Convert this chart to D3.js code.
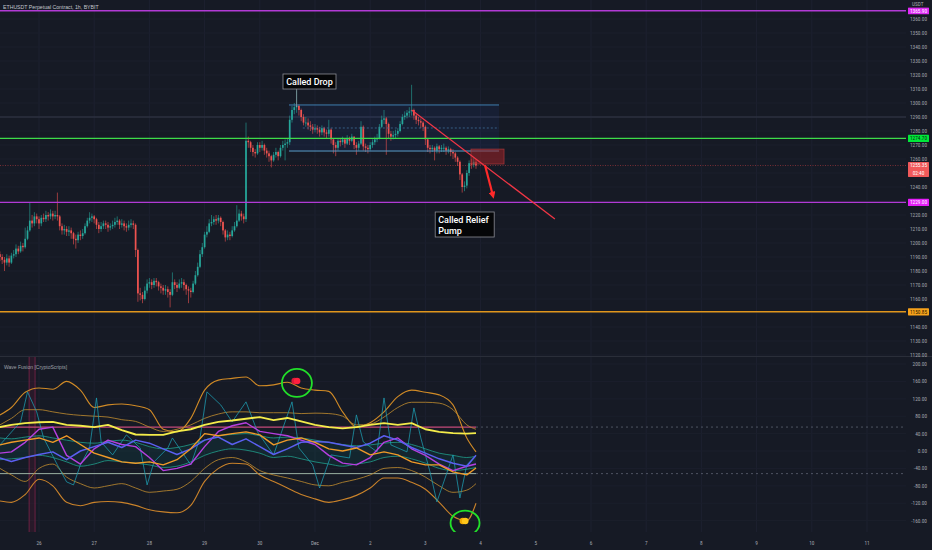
<!DOCTYPE html>
<html><head><meta charset="utf-8">
<script src="https://cdn.jsdelivr.net/npm/d3@7"></script>
<style>html,body{margin:0;padding:0;background:#161a25;overflow:hidden}</style>
</head><body><svg id="c" width="932" height="550"></svg>
<script>
// ---------------- DATA ----------------
const chartTitle = "ETHUSDT Perpetual Contract, 1h, BYBIT";
const startHour = -17;          // hours relative to Nov 26 00:00
const firstOpen = 1192;
const closes = [1190,1188,1186,1189,1186, 1191,1192,1196,1194, 1198,1197,1203, 1209,1216,
 1214,1219,1217,1214, 1218,1217,1220,1219, 1221,1219,1220,1219, 1212,1209,1210,1208,
 1209,1207,1203,1202, 1206,1205,1207,1212, 1216,1218,1219,1217, 1213,1210,1212,1214,
 1213,1211,1212,1213, 1215,1216,1213,1214, 1212,1211,1213,1214,1213, 1195,1164,
 1163,1160,1166,1171, 1172,1170,1173,1172,1169, 1168,1166,1167,1165, 1163,1172,
 1170,1168,1171,1172, 1170,1167,1166,1165, 1171,1177,1183,1192, 1197,1206,1208,1214,
 1215,1217,1216,1218,1215, 1209,1204,1206,1205, 1209,1212,1216,1221,1219,1217,
 1273,1272,1268,1265,1264, 1270,1268,1270,1266,1264, 1262,1259,1263,1265,1262,
 1268,1270,1271,1272, 1288,1295,1297,1298,1295, 1290,1286,1286,1284,1283,
 1281,1282,1281,1279,1282, 1279,1278,1281,1274,1270, 1268,1273,1272,1274,1271,
 1275,1273,1276,1270,1268, 1271,1283,1269,1268,1267, 1270,1272,1274,1275,1283,
 1288,1289,1285,1278,1276, 1277,1278,1280,1285,1290, 1291,1293,1294,1295,1291,
 1288,1287,1286,1283,1274, 1268,1267,1268,1266,1269, 1267,1268,1268,1266,1267,
 1265,1264,1261,1258,1249, 1240,1241,1250,1257,1256, 1258,1255.35];
const highs = [1194,1192,1190,1192,1191, 1193,1195,1199,1198, 1201,1200,1211, 1212,1229,
 1220,1222,1221,1219, 1220,1221,1223,1222, 1224,1223,1223,1236, 1220,1214,1213,1212,
 1212,1211,1208,1206, 1208,1209,1210,1214, 1218,1222,1221,1220, 1218,1215,1215,1216,
 1216,1215,1214,1216, 1218,1219,1217,1217, 1216,1214,1216,1217,1216, 1214,1196,
 1168,1165,1169,1174, 1175,1174,1175,1175,1173, 1171,1170,1170,1169, 1167,1179,
 1174,1172,1174,1175, 1174,1171,1169,1168, 1173,1180,1186,1195, 1200,1208,1212,1217,
 1220,1219,1220,1220,1219, 1216,1210,1209,1208, 1212,1215,1227,1224,1223,1221,
 1286,1276,1273,1270,1267, 1272,1272,1273,1271,1268, 1266,1263,1265,1268,1266,
 1270,1273,1274,1275, 1291,1298,1300,1309,1299, 1296,1292,1290,1289,1287,
 1285,1285,1284,1283,1284, 1283,1281,1288,1282,1275, 1272,1275,1275,1276,1275,
 1277,1276,1278,1276,1272, 1273,1287,1284,1271,1270, 1272,1274,1276,1278,1285,
 1291,1295,1290,1286,1280, 1280,1281,1282,1287,1292, 1294,1295,1297,1313,1296,
 1292,1290,1289,1287,1284, 1275,1270,1270,1269,1271, 1270,1270,1271,1269,1269,
 1268,1267,1265,1262,1259, 1250,1244,1252,1259,1260, 1261,1260];
const lows = [1187,1185,1180,1184,1183, 1185,1189,1190,1192, 1193,1194,1196, 1202,1208,
 1211,1212,1214,1210, 1212,1215,1215,1216, 1217,1216,1217,1216, 1209,1206,1206,1205,
 1205,1203,1199,1196, 1200,1202,1203,1206, 1211,1214,1215,1214, 1210,1207,1208,1210,
 1210,1208,1209,1210, 1211,1213,1210,1211, 1209,1208,1209,1211,1210, 1190,1158,
 1159,1157,1159,1164, 1168,1167,1168,1169,1166, 1164,1163,1163,1161, 1154,1162,
 1167,1165,1167,1168, 1166,1163,1157,1161, 1164,1170,1176,1182, 1190,1196,1204,1207,
 1212,1213,1213,1214,1212, 1206,1201,1202,1202, 1204,1208,1211,1215,1216,1214,
 1215,1268,1265,1262,1261, 1263,1265,1266,1263,1261, 1258,1254,1258,1261,1259,
 1261,1266,1259,1268, 1270,1286,1292,1293,1291, 1287,1284,1283,1281,1280,
 1278,1279,1278,1276,1277, 1276,1275,1276,1271,1264, 1262,1266,1269,1270,1268,
 1270,1270,1272,1267,1263, 1266,1270,1266,1265,1264, 1266,1268,1270,1272,1274,
 1282,1285,1263,1275,1273, 1274,1275,1276,1279,1284, 1288,1289,1290,1291,1288,
 1285,1284,1282,1280,1270, 1265,1264,1265,1259,1264, 1264,1265,1265,1263,1264,
 1262,1260,1258,1255,1245, 1236,1237,1239,1248,1253, 1254,1253];

const dayTicks  = [0,24,48,72,96,120,144,168,192,216,240,264,288,312,336,360];
const dayLabels = ["26","27","28","29","30","Dec","2","3","4","5","6","7","8","9","10","11"];
const priceTicks = [1120,1130,1140,1150,1160,1170,1180,1190,1200,1210,1220,1230,1240,1250,1260,1270,1280,1290,1300,1310,1320,1330,1340,1350,1360];

const levelPrices = [1365.9, 1274.7, 1229.0, 1150.85];
const lastPrice = 1255.35;
const countdown = "02:40";
const greyLevel = 1290;

// drawings (hour, price)
const rangeBox = {t0:108.7, t1:200, top:1298.6, bottom:1265.7};
const redBox = {t0:187.8, t1:202.2, top:1267.1, bottom:1256.4};
const trendLine = [[162,1295],[224.3,1217.1]];
const arrowLine = [[193.9,1255.7],[197.4,1233.6]];
const noteDrop = {t:112, p:1309, text:["Called Drop"]};
const noteRelief = {t:184, p:1236, text:["Called Relief","Pump"]};

// indicator
const indTitle = "Wave Fusion [CryptoScripts]";
const indTicks = [200,160,120,80,40,0,-40,-80,-120,-160];
const indLevels = [55, -52];
const indHours = [-17,-12,-6,0,6,12,18,24,30,36,42,48,54,60,66,72,78,84,90,96,102,108,114,120,126,132,138,144,150,156,162,168,174,180,186,190];
const yellowWave = [55,60,64,66,67,60,58,55,60,48,38,37,37,45,50,60,67,70,74,78,71,76,68,60,55,52,55,60,64,60,64,50,44,41,40,41];
const blueWave   = [-16,-24,-15,-8,-2,-20,0,10,20,8,25,18,5,-8,5,25,32,15,28,10,-8,5,20,22,20,14,8,18,35,25,8,-5,-18,-28,-35,-10];
const magentaWave= [-5,-2,20,50,55,-10,-30,5,25,15,10,-15,-45,-40,-30,10,45,58,65,45,40,35,25,15,-10,-28,-32,-15,20,30,5,-10,-30,-45,-35,-30];
const orangeMid  = [14,20,25,30,20,35,15,-5,-15,-25,-28,-25,-32,-20,5,40,35,40,44,37,14,25,30,20,5,0,7,-9,-2,-9,-25,-32,-32,-48,-55,-39];
const upperBand  = [83,100,135,145,142,160,140,100,106,108,104,95,50,44,75,140,163,167,170,150,152,158,145,140,137,90,55,65,90,125,140,135,129,106,30,-2];
const upperBand2 = [60,75,95,95,90,85,82,80,78,72,68,55,45,50,60,75,85,90,90,88,88,88,86,87,86,80,60,62,78,100,112,112,110,95,60,50];
const lowerBand  = [-115,-118,-100,-65,-80,-118,-126,-118,-116,-118,-125,-135,-140,-142,-125,-70,-40,-28,-30,-55,-70,-85,-100,-110,-118,-112,-102,-85,-62,-62,-72,-88,-118,-150,-160,-120];
const lowerBand2 = [-40,-55,-70,-40,-30,-60,-75,-85,-80,-75,-85,-95,-92,-88,-70,-40,-20,-15,-25,-45,-55,-62,-70,-78,-80,-72,-65,-55,-40,-38,-45,-60,-80,-95,-90,-75];
const tealUpper  = [30,28,32,35,30,25,20,18,22,25,20,10,5,8,15,25,35,38,40,35,30,32,30,25,20,15,12,14,18,20,15,5,-5,-10,-15,-12];
const tealLower  = [-20,-18,-15,-10,-15,-25,-35,-30,-22,-25,-28,-32,-38,-35,-25,-10,0,5,2,-5,-15,-12,-18,-25,-30,-35,-30,-25,-15,-12,-18,-28,-40,-45,-42,-38];
const cyanSpikes = [[-17,14],[-8,67],[-5,136],[-1,90],[2,30],[8,-32],[12,-71],[15,-78],[18,-32],[22,7],[25,122],[27,21],[32,-9],[38,37],[44,7],[47,-78],[50,-25],[56,7],[58,30],[66,-32],[70,30],[73,136],[79,106],[84,67],[90,113],[95,44],[102,-9],[110,113],[113,7],[119,-32],[122,-85],[127,-9],[135,-16],[138,83],[141,21],[147,-2],[150,122],[153,14],[160,-2],[163,99],[166,30],[170,-48],[173,-117],[176,-71],[180,-9],[183,-108],[186,-32],[189,-16]];
const signalBand = [-4.3, -1.7];
const sellSignal = [111.7, 161];
const buySignal  = [184.8, -161];

// ---------------- DRAW ----------------
const svg = d3.select("#c");
const PR = 906;                      // plot right edge
const x  = d3.scaleLinear().domain([0,240]).range([39,591]);
const y  = d3.scaleLinear().domain([1120,1360]).range([355,19]);
const yi = d3.scaleLinear().domain([-160,200]).range([520.6,364]);
const fontAxis = "'Liberation Sans Narrow','Roboto Condensed','Liberation Sans',sans-serif";
const axisCol = "#a3a6af";

svg.append("rect").attr("width",932).attr("height",550).attr("fill","#161a25");
const defs = svg.append("defs");
defs.append("clipPath").attr("id","cp").append("rect").attr("x",0).attr("y",0).attr("width",PR).attr("height",356);
defs.append("clipPath").attr("id","ci").append("rect").attr("x",0).attr("y",357).attr("width",PR).attr("height",175);
defs.append("marker").attr("id","arr").attr("viewBox","0 0 10 10").attr("refX",6).attr("refY",5)
  .attr("markerWidth",3.2).attr("markerHeight",3.2).attr("orient","auto")
  .append("path").attr("d","M0,0 L10,5 L0,10 z").attr("fill","#ff2a2a");

// grid
const grid = svg.append("g");
grid.selectAll("line.v").data(dayTicks).join("line")
  .attr("x1",d=>x(d)).attr("x2",d=>x(d)).attr("y1",0).attr("y2",532)
  .attr("stroke","#1d2130").attr("stroke-width",1);
grid.selectAll("line.h").data(priceTicks).join("line")
  .attr("x1",0).attr("x2",PR).attr("y1",d=>y(d)).attr("y2",d=>y(d))
  .attr("stroke","#1b1f2c").attr("stroke-width",1);
grid.selectAll("line.hi").data(indTicks).join("line")
  .attr("x1",0).attr("x2",PR).attr("y1",d=>yi(d)).attr("y2",d=>yi(d))
  .attr("stroke","#1b1f2c").attr("stroke-width",1);
svg.append("line").attr("x1",0).attr("x2",932).attr("y1",356.5).attr("y2",356.5).attr("stroke","#2a2e39").attr("stroke-width",1);

// ---- price pane ----
const gp = svg.append("g").attr("clip-path","url(#cp)");
gp.append("line").attr("x1",0).attr("x2",PR).attr("y1",y(greyLevel)).attr("y2",y(greyLevel))
  .attr("stroke","#343949").attr("stroke-width",1);
gp.append("line").attr("x1",0).attr("x2",PR).attr("y1",y(lastPrice)).attr("y2",y(lastPrice))
  .attr("stroke","#b03a3e").attr("stroke-width",0.8).attr("stroke-dasharray","1,1.5").attr("opacity",0.8);

gp.append("rect").attr("x",x(rangeBox.t0)).attr("width",x(rangeBox.t1)-x(rangeBox.t0))
  .attr("y",y(rangeBox.top)).attr("height",y(rangeBox.bottom)-y(rangeBox.top))
  .attr("fill","rgba(41,98,255,0.07)");

const candles = closes.map((c,i)=>({t:startHour+i, o:i===0?firstOpen:closes[i-1], c:c, h:highs[i], l:lows[i]}));
const up="#26a69a", dn="#ef5350";
gp.selectAll("line.wick").data(candles).join("line")
  .attr("x1",d=>x(d.t)).attr("x2",d=>x(d.t))
  .attr("y1",d=>y(Math.max(d.h,d.o,d.c))).attr("y2",d=>y(Math.min(d.l,d.o,d.c)))
  .attr("stroke",d=>d.c>=d.o?up:dn).attr("stroke-width",0.6);
gp.selectAll("rect.body").data(candles).join("rect")
  .attr("x",d=>x(d.t)-0.85).attr("width",1.7)
  .attr("y",d=>y(Math.max(d.o,d.c)))
  .attr("height",d=>Math.max(0.8,Math.abs(y(d.o)-y(d.c))))
  .attr("fill",d=>d.c>=d.o?up:dn);

gp.append("line").attr("x1",x(rangeBox.t0)).attr("x2",x(rangeBox.t1)).attr("y1",y(rangeBox.top)).attr("y2",y(rangeBox.top))
  .attr("stroke","#3f7fb0").attr("stroke-width",1);
gp.append("line").attr("x1",x(rangeBox.t0)).attr("x2",x(rangeBox.t1)).attr("y1",y(rangeBox.bottom)).attr("y2",y(rangeBox.bottom))
  .attr("stroke","#5a9cc8").attr("stroke-width",1);
gp.append("line").attr("x1",x(rangeBox.t0+6)).attr("x2",x(rangeBox.t1)).attr("y1",y((rangeBox.top+rangeBox.bottom)/2)).attr("y2",y((rangeBox.top+rangeBox.bottom)/2))
  .attr("stroke","#3f6f9a").attr("stroke-width",0.8).attr("stroke-dasharray","2,2");

const levelLine = ["#b23ad6","#3ddc4a","#b23ad6","#e0961c"];
gp.selectAll("line.lvl").data(levelPrices).join("line")
  .attr("x1",0).attr("x2",PR).attr("y1",d=>y(d)).attr("y2",d=>y(d))
  .attr("stroke",(d,i)=>levelLine[i]).attr("stroke-width",1.4);

gp.append("rect").attr("x",x(redBox.t0)).attr("width",x(redBox.t1)-x(redBox.t0))
  .attr("y",y(redBox.top)).attr("height",y(redBox.bottom)-y(redBox.top))
  .attr("fill","rgba(160,35,38,0.55)").attr("stroke","rgba(210,70,70,0.6)").attr("stroke-width",0.8);
gp.append("line").attr("x1",x(trendLine[0][0])).attr("y1",y(trendLine[0][1]))
  .attr("x2",x(trendLine[1][0])).attr("y2",y(trendLine[1][1]))
  .attr("stroke","#f23645").attr("stroke-width",1.2);
gp.append("line").attr("x1",x(arrowLine[0][0])).attr("y1",y(arrowLine[0][1]))
  .attr("x2",x(arrowLine[1][0])).attr("y2",y(arrowLine[1][1]))
  .attr("stroke","#ff2a2a").attr("stroke-width",2.2).attr("marker-end","url(#arr)");

function note(n, dx, dy, w, h, align){
  const ax=x(n.t), ay=y(n.p);
  const g=gp.append("g");
  g.append("rect").attr("x",ax+dx).attr("y",ay+dy).attr("width",w).attr("height",h)
    .attr("fill","#050608").attr("stroke","#8a8d95").attr("stroke-width",0.8);
  n.text.forEach((s,i)=>{
    g.append("text").attr("x",align==="middle"?ax+dx+w/2:ax+dx+3).attr("y",ay+dy+10.5+i*11)
      .attr("text-anchor",align).attr("fill","#fff")
      .attr("font-family","Roboto,'Noto Sans',sans-serif").attr("font-weight",500).attr("font-size","9px").text(s);
  });
  return {ax,ay};
}
const nd = note(noteDrop,-13.6,-16.4,53,15,"middle");
gp.append("line").attr("x1",nd.ax).attr("x2",nd.ax).attr("y1",nd.ay-1.4).attr("y2",y(1297)).attr("stroke","#9a9da5").attr("stroke-width",0.7);
note(noteRelief,-27,19.4,59,25,"start");

// ---- indicator pane ----
const gi = svg.append("g").attr("clip-path","url(#ci)");
gi.append("rect").attr("x",x(signalBand[0])).attr("width",x(signalBand[1])-x(signalBand[0]))
  .attr("y",357).attr("height",175).attr("fill","rgba(120,20,60,0.18)");
signalBand.forEach(t=>gi.append("line").attr("x1",x(t)).attr("x2",x(t)).attr("y1",357).attr("y2",532)
  .attr("stroke","rgba(170,40,90,0.55)").attr("stroke-width",1));

const pts = v => v.map((d,i)=>[indHours[i], d]);
const lineGen = d3.line().x(d=>x(d[0])).y(d=>yi(d[1]));
gi.append("path").datum(indHours.map((h,i)=>[h,tealUpper[i],tealLower[i]]))
  .attr("d", d3.area().x(d=>x(d[0])).y0(d=>yi(d[2])).y1(d=>yi(d[1])).curve(d3.curveMonotoneX))
  .attr("fill","rgba(0,150,136,0.10)");
const lvlEnd = indHours[indHours.length-1];
gi.append("line").attr("x1",0).attr("x2",x(lvlEnd)).attr("y1",yi(indLevels[0])).attr("y2",yi(indLevels[0]))
  .attr("stroke","#c44a7a").attr("stroke-width",1.3);
gi.append("line").attr("x1",0).attr("x2",x(lvlEnd)).attr("y1",yi(indLevels[1])).attr("y2",yi(indLevels[1]))
  .attr("stroke","#a9c2b0").attr("stroke-width",0.9);
indLevels.forEach(v=>gi.append("line").attr("x1",x(lvlEnd)).attr("x2",PR).attr("y1",yi(v)).attr("y2",yi(v))
  .attr("stroke","#5d6271").attr("stroke-width",0.8).attr("stroke-dasharray","2,3"));

function wave(vals, color, width, curve, op){
  gi.append("path").datum(vals).attr("d", lineGen.curve(curve)(vals))
    .attr("fill","none").attr("stroke",color).attr("stroke-width",width).attr("opacity",op||1)
    .attr("stroke-linejoin","round");
}
wave(pts(tealUpper), "#1f8f80", 1, d3.curveMonotoneX, 0.9);
wave(pts(tealLower), "#1f8f80", 1, d3.curveMonotoneX, 0.9);
wave(pts(upperBand), "#d08a26", 1.1, d3.curveMonotoneX);
wave(pts(upperBand2), "#b7862e", 1, d3.curveMonotoneX, 0.85);
wave(pts(lowerBand), "#c9822a", 1.1, d3.curveMonotoneX);
wave(pts(lowerBand2), "#b7862e", 1, d3.curveMonotoneX, 0.85);
wave(cyanSpikes, "#1e9fb3", 1, d3.curveLinear, 0.75);
wave(pts(magentaWave), "#b53fe0", 1.4, d3.curveLinear);
wave(pts(blueWave), "#5b5ff0", 1.5, d3.curveLinear);
wave(pts(orangeMid), "#f09a28", 1.4, d3.curveLinear);
wave(pts(yellowWave), "#f4ec4a", 1.9, d3.curveLinear);

function signal(s, color, color2, rx, ry){
  const cx=x(s[0]), cy=yi(s[1]);
  gi.append("ellipse").attr("cx",cx+1).attr("cy",cy+2).attr("rx",rx).attr("ry",ry)
    .attr("fill","none").attr("stroke","#22e02a").attr("stroke-width",1.8);
  gi.append("circle").attr("cx",cx-1.2).attr("cy",cy).attr("r",3.3).attr("fill",color2);
  gi.append("circle").attr("cx",cx+1.2).attr("cy",cy).attr("r",3.3).attr("fill",color);
}
signal(sellSignal,"#ff1f3d","#d81b3a",15,14);
signal(buySignal,"#ffc61a","#f0a800",14.5,12.5);

// ---- text & axes ----
svg.append("text").attr("x",3).attr("y",8.5).attr("fill","#c3c6ce").attr("font-family","'Liberation Sans',Roboto,sans-serif")
  .attr("font-size","5.2px").text(chartTitle);
svg.append("text").attr("x",4).attr("y",368.5).attr("fill","#9ea1aa").attr("font-family","'Liberation Sans',Roboto,sans-serif")
  .attr("font-size","5px").text(indTitle);

// label boxes on the price scale (used to hide ticks underneath)
const boxSpans = levelPrices.map(p=>[y(p)-3.6, y(p)+3.6]).concat([[y(lastPrice)-3.6, y(lastPrice)+11.4]]);
const hidden = v => { const a=y(v)-2.3, b=y(v)+2.3; return boxSpans.some(s=>a<s[1] && b>s[0]) || y(v)<9; };

const ax = svg.append("g").attr("font-family",fontAxis).attr("font-size","5.3px").attr("fill",axisCol);
ax.selectAll("text.p").data(priceTicks.filter(v=>!hidden(v))).join("text")
  .attr("x",927).attr("y",d=>y(d)+1.9).attr("text-anchor","end").text(d=>d.toFixed(2));
ax.selectAll("text.i").data(indTicks).join("text")
  .attr("x",927).attr("y",d=>yi(d)+1.9).attr("text-anchor","end").text(d=>d.toFixed(2));
ax.selectAll("text.d").data(dayTicks).join("text")
  .attr("x",d=>x(d)).attr("y",545).attr("text-anchor","middle").text((d,i)=>dayLabels[i]);

const boxFill = ["#de2bf5","#00e83a","#e41ef8","#f7a21b"];
const boxText = ["#ffffff","#0b2a10","#ffffff","#2a1a00"];
levelPrices.forEach((p,i)=>{
  const cy=y(p);
  svg.append("rect").attr("x",908).attr("y",cy-3.6).attr("width",21).attr("height",7.2).attr("fill",boxFill[i]).attr("rx",0.6);
  svg.append("text").attr("x",918.5).attr("y",cy+1.9).attr("text-anchor","middle").attr("font-family",fontAxis)
    .attr("font-size","5.3px").attr("fill",boxText[i]).text(p.toFixed(2));
});
svg.append("rect").attr("x",907).attr("y",0).attr("width",25).attr("height",7.5).attr("fill","#161a25");
svg.append("text").attr("x",912).attr("y",6).attr("font-family",fontAxis).attr("font-size","5.3px").attr("fill",axisCol).text("USDT");
{
  const cy=y(lastPrice);
  svg.append("rect").attr("x",908).attr("y",cy-3.6).attr("width",21).attr("height",15).attr("fill","#f0595a").attr("rx",0.6);
  svg.append("text").attr("x",918.5).attr("y",cy+1.9).attr("text-anchor","middle").attr("font-family",fontAxis)
    .attr("font-size","5.3px").attr("fill","#fff").text(lastPrice.toFixed(2));
  svg.append("text").attr("x",918.5).attr("y",cy+9.2).attr("text-anchor","middle").attr("font-family",fontAxis)
    .attr("font-size","5.3px").attr("fill","#fff").text(countdown);
}
</script></body></html>
